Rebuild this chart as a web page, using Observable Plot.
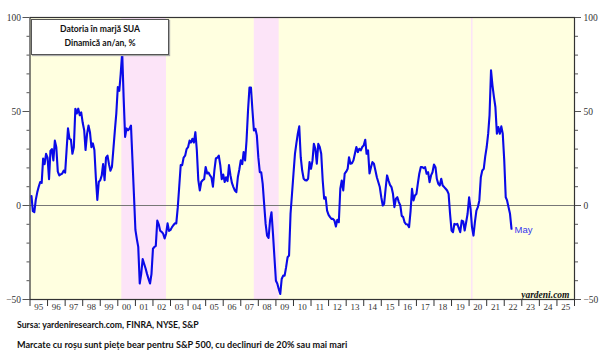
<!DOCTYPE html>
<html>
<head>
<meta charset="utf-8">
<script src="https://cdn.jsdelivr.net/npm/d3@7"></script>
<script src="https://cdn.jsdelivr.net/npm/@observablehq/plot@0.6"></script>
<style>
  body { margin: 0; background: #fff; }
  #wrap { position: relative; width: 600px; height: 353px; overflow: hidden; }
  #chart svg { display: block; }
  .legend { position: absolute; left: 31px; top: 19px; width: 136px; height: 32px;
    background: #fff; border: 1px solid #555; box-shadow: 1px 1px 1px #aaa;
    font: bold 8.6px Lato, sans-serif; color: #111; text-align: center; line-height: 14px; padding-top: 2px; }
  .cap { position: absolute; left: 17px; font: bold 8.9px Lato, sans-serif; color: #111; white-space: nowrap; }
</style>
</head>
<body>
<div id="wrap">
  <div id="chart"></div>
  <div class="legend">Datoria în marjă SUA<br>Dinamică an/an, %</div>
  <div class="cap" style="top:319px; font-size:8.7px">Sursa: yardeniresearch.com, FINRA, NYSE, S&amp;P</div>
  <div class="cap" style="top:339px; font-size:9.1px">Marcate cu roșu sunt piețe bear pentru S&amp;P 500, cu declinuri de 20% sau mai mari</div>
</div>
<script>
// Monthly series, first value = January 1995, last = May 2022 (YoY %, US margin debt)
const startYear = 1995;
const marginDebtYoY = [
  5, -3, -3.5, 3, 7, 10, 12.5, 12, 25, 22, 27.5, 25.5,            // 1995
  14, 29, 30, 24, 34.5, 31, 18, 16, 16.5, 17, 18.5, 17.5,          // 1996
  30, 41, 35.5, 35, 27.5, 31, 51.5, 49, 51.5, 48, 49.5, 44,        // 1997
  40, 29.5, 38, 42.5, 39, 31, 33, 29.5, 15, 3, 12.5, 13.5,         // 1998
  16, 22, 13.5, 25.5, 26.5, 22, 18.5, 20.5, 30, 40, 49, 63,        // 1999
  61, 70, 81.5, 57.5, 36.5, 41, 40, 41, 42.5, 24, 6, -13,          // 2000
  -18, -22, -41.5, -36.5, -28.5, -31, -33.5, -36.5, -39, -41.5, -36.5, -23, // 2001
  -22, -21.5, -8, -10, -13.5, -14, -15, -17.5, -15, -9.5, -13.5, -13,       // 2002
  -11.5, -10.5, -9.5, -9.5, -1, 10, 21.5, 21.5, 25.5, 26.5, 30, 31,         // 2003
  34.5, 33.5, 35.5, 33.5, 39, 29.5, 13.5, 8, 12.5, 13.5, 14, 20.5, // 2004
  17, 17.5, 16, 15, 10, 18.5, 25, 25.5, 26.5, 21.5, 14, 16.5,      // 2005
  12.5, 15, 13, 21.5, 16, 12, 9.8, 8, 7.1, 15, 19, 24,             // 2006
  22, 28.4, 24, 34.6, 50.6, 62.7, 62.7, 50.6, 39.9, 40.8, 37.3, 25.7,       // 2007
  17.7, 17.7, 11.5, 0.9, -9.8, -16, -17.2, -8, -3.6, -15.1, -27.5, -40,     // 2008
  -41.7, -44.4, -47.1, -39.1, -37.3, -37.3, -32.8, -27.5, -26.6, -4.4, 6, 16.9, // 2009
  27.5, 32.8, 38.2, 42.1, 25.7, 18.6, 14.2, 13.5, 13.3, 14.2, 23.1, 19.5,   // 2010
  24, 32.8, 30.2, 22.2, 32.8, 31.1, 27.5, 13.3, 3.6, 4.4, -2.7, -5,         // 2011
  -6.2, -7.1, -7.1, -8, -11.2, -7.6, -8.9, 8.9, 13.3, 8, 16.9, 18,          // 2012
  19.5, 25.7, 22.2, 22.5, 24, 27.5, 31.1, 28.4, 30.2, 29.3, 31.1, 32,       // 2013
  35, 27.5, 29.3, 17, 20.4, 23.1, 22.2, 18.6, 15, 12.4, 9.8, 4.4,           // 2014
  0, 0.9, 8.9, 16, 13.3, 11, 9.8, 6.2, -0.9, 3.6, 4.4, 1.8,                 // 2015
  0, -5.5, -6.2, -9, -10, -10.1, -11.5, -3, 8.9, 2.7, 5.3, 6.2,             // 2016
  12, 16.9, 20.4, 20.4, 19.9, 20.4, 16.9, 17.7, 12.4, 16, 17.7, 21.8,       // 2017
  20.4, 14.2, 11.5, 10.6, 14.2, 10.6, 9.8, 8.9, 8, 6.2, -4.4, -13.3,        // 2018
  -14.2, -9.8, -10.1, -9.8, -12, -14.2, -8, -8.5, -13.3, -8.9, -4.4, 4.4,   // 2019
  -1.8, -11.5, -16, -8.9, -2.7, -0.9, 2.7, 15, 18.6, 19.5, 26, 31.1,        // 2020
  38.2, 47.9, 71.9, 63.9, 57.7, 52.4, 38.2, 41.7, 38.2, 42.1, 38.2, 24,     // 2021
  4.4, 2.7, -1, -4.4, -12.4                                                 // 2022 (to May)
];
const lastLabel = "May";

// S&P 500 bear markets (declines of 20% or more)
const bearStarts = ["2000-03-24", "2007-10-09", "2020-02-19"];
const bearEnds   = ["2002-10-09", "2009-03-09", "2020-03-23"];

const yMajorTicks = [-50, 0, 50, 100];
const yMinorTicks = [-40, -30, -20, -10, 10, 20, 30, 40, 60, 70, 80, 90];
const firstAxisYear = 1995, lastAxisYear = 2025;

// build tables
const t0 = new Date(Date.UTC(startYear, 0, 1));
// monthly values are plotted at month end
const series = marginDebtYoY.map((v, i) => ({date: d3.utcMonth.offset(t0, i + 1), value: v}));
const bears = bearStarts.map((s, i) => ({start: new Date(s), end: new Date(bearEnds[i])}));
const yearBounds = d3.range(firstAxisYear, lastAxisYear + 2).map(y => new Date(Date.UTC(y, 0, 1)));
const yearMids = d3.range(firstAxisYear, lastAxisYear + 1).map(y => new Date(Date.UTC(y, 6, 1)));

const serif = "Liberation Serif, Times New Roman, serif";

const chart = Plot.plot({
  width: 600,
  height: 314,
  marginTop: 17,
  marginBottom: 15,
  marginLeft: 29.5,
  marginRight: 26,
  style: {background: "#fff", fontFamily: serif, fontSize: "9px", color: "#222"},
  x: {type: "utc", domain: [yearBounds[0], yearBounds[yearBounds.length - 1]], axis: null},
  y: {domain: [-50, 100], axis: null},
  marks: [
    Plot.frame({fill: "#ffffe0"}),
    Plot.rect(bears, {x1: "start", x2: "end", fill: "#fce4f8"}),
    Plot.ruleY([0], {stroke: "#777", strokeWidth: 1}),
    Plot.lineY(series, {x: "date", y: "value", stroke: "#0a0ae8", strokeWidth: 2.1}),
    Plot.text(series.slice(-1), {x: "date", y: "value", text: () => lastLabel, dx: 3, dy: 1,
      textAnchor: "start", fill: "#3535ee", fontFamily: "Liberation Sans, Arial, sans-serif", fontSize: 9.5}),
    Plot.text(["yardeni.com"], {frameAnchor: "bottom-right", dx: -5, dy: -2, fontFamily: serif,
      fontStyle: "italic", fontWeight: "bold", fontSize: 9.5, fill: "#111"}),
    Plot.frame({stroke: "#333", strokeWidth: 1.2}),
    // left axis
    Plot.axisY({anchor: "left", label: null, ticks: yMajorTicks, tickSize: 7, tickPadding: 2, fontSize: 9.5, fontFamily: serif, stroke: "#555", fill: "#333"}),
    Plot.axisY({anchor: "left", label: null, ticks: yMinorTicks, tickSize: 3, tickFormat: () => "", stroke: "#555"}),
    // right axis
    Plot.axisY({anchor: "right", label: null, ticks: yMajorTicks, tickSize: 6, tickPadding: 3, fontSize: 9.5, fontFamily: serif, stroke: "#555", fill: "#333"}),
    Plot.axisY({anchor: "right", label: null, ticks: yMinorTicks, tickSize: 3, tickFormat: () => "", stroke: "#555"}),
    // bottom axis: year boundaries ticks and year labels
    Plot.axisX({label: null, ticks: yearBounds, tickSize: 7, tickFormat: () => "", stroke: "#333"}),
    Plot.axisX({label: null, ticks: yearMids, tickSize: 0, tickPadding: 4, tickFormat: d3.utcFormat("%y"), fontSize: 9, fontFamily: serif, fill: "#333"})
  ]
});
document.getElementById("chart").append(chart);
</script>
</body>
</html>
